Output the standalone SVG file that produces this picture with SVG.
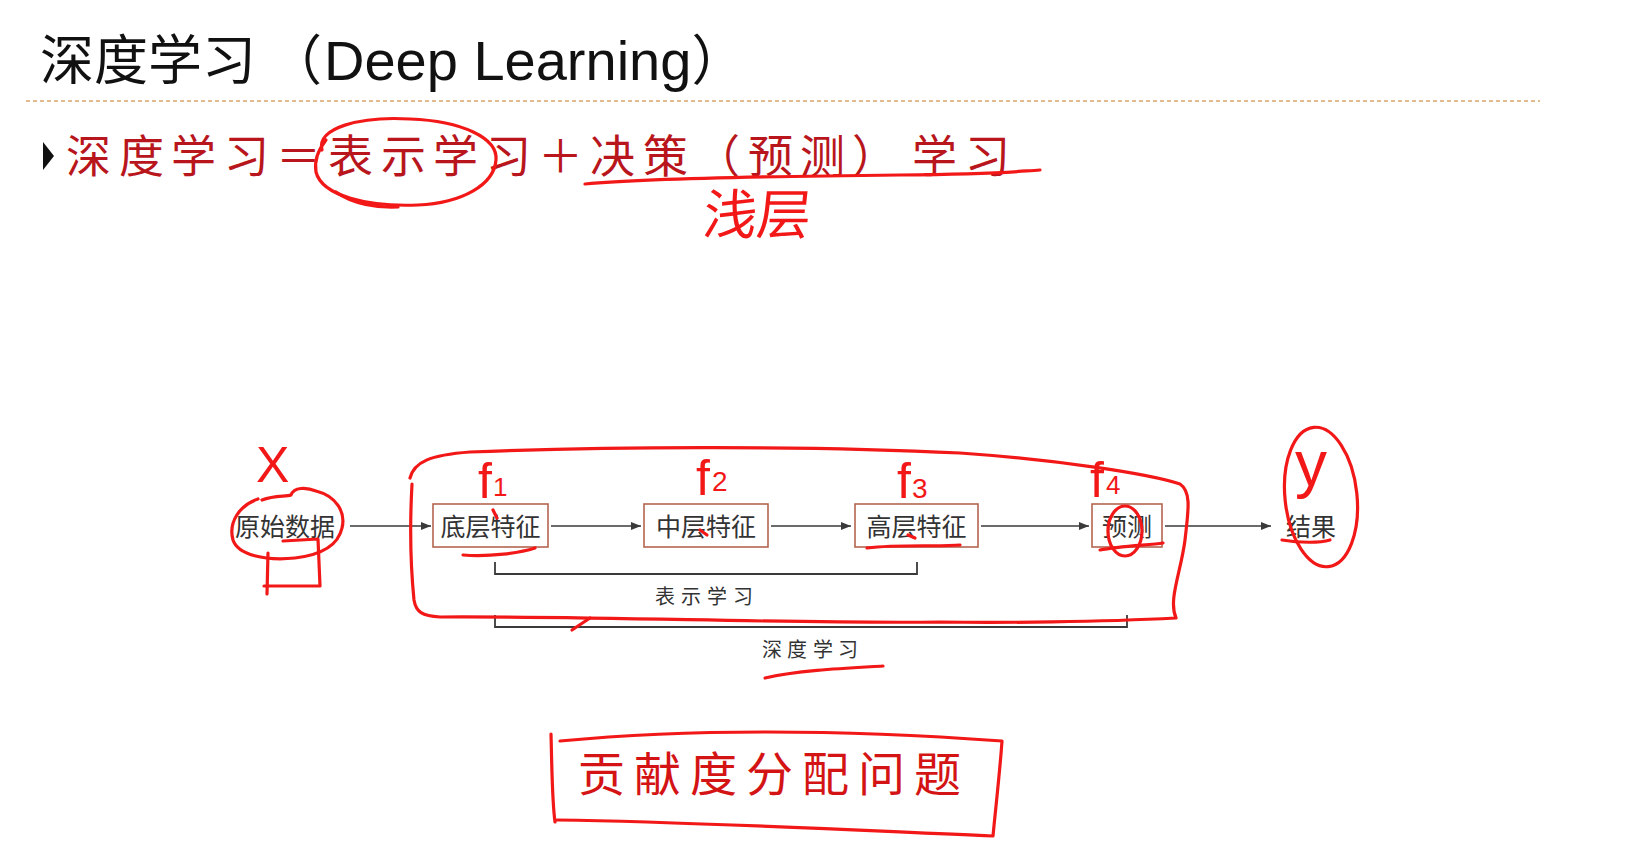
<svg xmlns="http://www.w3.org/2000/svg" width="1631" height="855" viewBox="0 0 1631 855">
  <defs>
    <style>
      .title { font-family: "Liberation Sans", "Noto Sans CJK SC", sans-serif; font-size: 54px; fill: #111; }
      .bullet { font-family: "Noto Sans CJK SC", sans-serif; font-size: 45px; fill: #b8161c; }
      .node-box { fill: #fff; stroke: #b5654f; stroke-width: 1.6; }
      .node-text { font-family: "Noto Sans CJK SC", sans-serif; font-size: 25px; fill: #333; text-anchor: middle; }
      .plain-text { font-family: "Noto Sans CJK SC", sans-serif; font-size: 25px; fill: #333; }
      .span-text { font-family: "Noto Sans CJK SC", sans-serif; font-size: 20px; fill: #333; }
      .edge { stroke: #3a3a3a; stroke-width: 1.6; fill: none; }
      .bracket { stroke: #3a3a3a; stroke-width: 1.8; fill: none; }
      .ink { stroke: #f21818; stroke-width: 3.2; fill: none; stroke-linecap: round; stroke-linejoin: round; }
      .ink-text { font-family: "Liberation Sans", sans-serif; fill: #f21818; }
      .ink-cjk { font-family: "Noto Sans CJK SC", sans-serif; fill: #f21818; }
      .note { font-family: "Noto Sans CJK SC", sans-serif; font-size: 47px; fill: #d41414; }
    </style>
    <marker id="arrow" viewBox="0 0 10 8" refX="10" refY="4" markerWidth="10" markerHeight="8" markerUnits="userSpaceOnUse" orient="auto">
      <path d="M0,0 L10,4 L0,8 Z" fill="#3a3a3a"/>
    </marker>
  </defs>

  <rect width="1631" height="855" fill="#fff"/>

  <!-- heading -->
  <g id="heading">
    <text class="title" x="40" y="80">深度学习<tspan dx="12">（</tspan><tspan font-size="56" dx="2">Deep Learning</tspan>）</text>
    <line x1="26" y1="101" x2="1540" y2="101" stroke="#d8a46a" stroke-width="1.6" stroke-dasharray="4 3"/>
  </g>

  <!-- definition line -->
  <g id="definition">
    <polygon points="43,142 54,156 43,170" fill="#111"/>
    <text class="bullet" y="173" x="66 119 171 224 276 328 381 433 486 538 590 643 695 748 800 852 912 965">深度学习＝表示学习＋决策（预测）学习</text>
  </g>

  <!-- nodes -->
  <g id="node-raw">
    <text class="plain-text" x="235" y="536">原始数据</text>
  </g>
  <g id="node-low">
    <rect class="node-box" x="433" y="504" width="115" height="43"/>
    <text class="node-text" x="490.5" y="536">底层特征</text>
  </g>
  <g id="node-mid">
    <rect class="node-box" x="644" y="504" width="124" height="43"/>
    <text class="node-text" x="706" y="536">中层特征</text>
  </g>
  <g id="node-high">
    <rect class="node-box" x="855" y="504" width="123" height="43"/>
    <text class="node-text" x="916.5" y="536">高层特征</text>
  </g>
  <g id="node-predict">
    <rect class="node-box" x="1092" y="504" width="70" height="43"/>
    <text class="node-text" x="1127" y="536">预测</text>
  </g>
  <g id="node-result">
    <text class="node-text" x="1311" y="536">结果</text>
  </g>

  <!-- connectors -->
  <g id="connectors">
    <line class="edge" x1="350" y1="526" x2="431" y2="526" marker-end="url(#arrow)"/>
    <line class="edge" x1="551" y1="526" x2="641" y2="526" marker-end="url(#arrow)"/>
    <line class="edge" x1="771" y1="526" x2="851" y2="526" marker-end="url(#arrow)"/>
    <line class="edge" x1="981" y1="526" x2="1089" y2="526" marker-end="url(#arrow)"/>
    <line class="edge" x1="1165" y1="526" x2="1271" y2="526" marker-end="url(#arrow)"/>
  </g>

  <!-- span brackets -->
  <g id="span-representation">
    <path class="bracket" d="M495,562 V574 H917 V562"/>
    <text class="span-text" y="604" x="655 681 707 733">表示学习</text>
  </g>
  <g id="span-deep">
    <path class="bracket" d="M495,615 V627 H1127 V615"/>
    <text class="span-text" y="657" x="762 787 813 838">深度学习</text>
  </g>

  <!-- red pen marks -->
  <g id="pen-marks">
    <!-- loop around 表示学, with a second stroke under it -->
    <path class="ink" d="M322,150 C316,128 360,116 410,119 C462,121 498,138 496,160 C494,185 462,203 418,205 C368,207 322,196 316,172 C314,160 318,150 326,140"/>
    <path class="ink" d="M336,192 C352,204 378,208 398,207"/>
    <!-- underline of the decision part -->
    <path class="ink" d="M585,184 C650,178 800,176 900,175 S1010,172 1040,170"/>
    <text class="ink-cjk" x="702" y="234" font-size="54" transform="skewX(-6) translate(24,0)">浅层</text>

    <!-- input -->
    <text class="ink-text" x="256" y="482" font-size="50">X</text>
    <path class="ink" d="M262,500 C275,495 286,497 291,495 C294,487 306,487 316,491 C336,496 346,512 342,528 C338,546 320,555 295,558 C265,561 238,555 233,540 C228,522 240,505 258,499"/>
    <path class="ink" d="M283,541 L318,539 L320,586 L264,586"/>
    <path class="ink" d="M268,553 L267,594"/>

    <!-- large loop around the learned stages -->
    <path class="ink" d="M410,478 C414,462 430,455 470,452 C600,447 800,445 960,453 C1060,460 1150,474 1180,484 C1192,492 1188,512 1185,540 C1181,572 1168,600 1176,618 C1100,622 1000,623 940,622 C800,624 600,616 440,617 C422,616 416,612 414,600 C410,560 410,520 412,484"/>
    <path class="ink" d="M572,630 L590,618"/>

    <!-- stage labels -->
    <text class="ink-text" x="478" y="498" font-size="50">f<tspan font-size="26" dx="1" dy="-2">1</tspan></text>
    <text class="ink-text" x="696" y="495" font-size="50">f<tspan font-size="28" dx="2" dy="-4">2</tspan></text>
    <text class="ink-text" x="897" y="498" font-size="50">f<tspan font-size="28" dx="1" dy="0">3</tspan></text>
    <text class="ink-text" x="1090" y="497" font-size="50">f<tspan font-size="26" dx="2" dy="-3">4</tspan></text>
    <text class="ink-text" x="1295" y="486" font-size="64">y</text>

    <!-- underlines and small ticks on stages -->
    <path class="ink" d="M463,555 C490,557 520,553 535,548"/>
    <path class="ink" d="M493,510 L497,518"/>
    <path class="ink" d="M700,530 L707,535"/>
    <path class="ink" d="M867,548 C900,544 940,547 960,545"/>
    <path class="ink" d="M908,535 L915,538"/>
    <path class="ink" d="M1100,550 C1120,546 1150,545 1163,543"/>
    <ellipse class="ink" cx="1125" cy="531" rx="17" ry="25"/>
    <path class="ink" d="M1282,540 C1300,543 1320,543 1330,540"/>
    <ellipse class="ink" cx="1321" cy="497" rx="36" ry="70" transform="rotate(-6 1321 497)"/>
    <path class="ink" d="M765,678 C800,670 850,668 883,666"/>
  </g>

  <!-- boxed note -->
  <g id="note">
    <path class="ink" d="M551,734 C552,770 552,800 555,822 M560,741 C700,728 850,730 1002,741 C1000,770 996,805 993,836 C850,830 700,822 557,820"/>
    <text class="note" y="791" x="578 634 690 746 802 858 914">贡献度分配问题</text>
  </g>
</svg>
